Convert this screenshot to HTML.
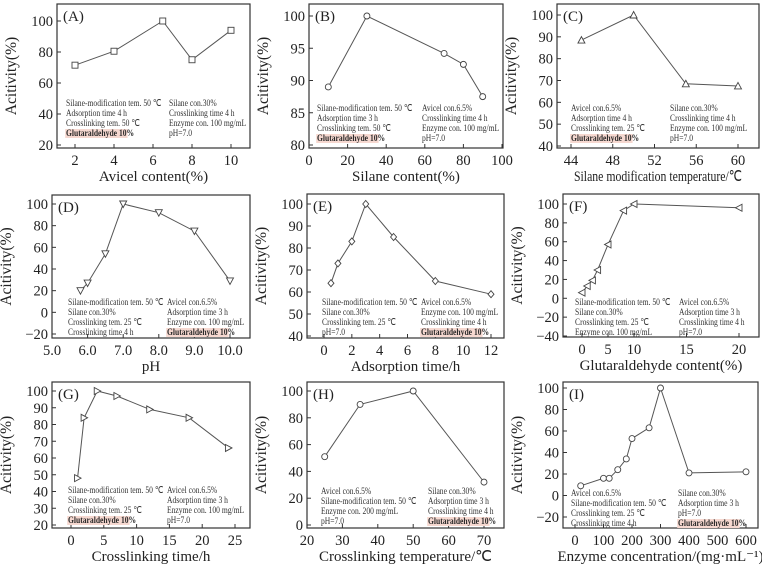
<!DOCTYPE html>
<html><head><meta charset="utf-8">
<style>
html,body{margin:0;padding:0;background:#fff;}
svg{display:block;font-family:"Liberation Serif",serif;}
</style></head>
<body>
<svg id="chart" width="762" height="565" viewBox="0 0 762 565" xmlns="http://www.w3.org/2000/svg"></svg>
<script>
// ---- data ----
const aX=[2,4,6.5,8,10];           const aY=[71.5,80.5,100,75,94];
const bX=[10,30,70,80,90];         const bY=[89,100,94.2,92.5,87.5];
const cX=[45,50,55,60];            const cY=[88.5,100,68.5,67.5];
const dX=[5.8,6,6.5,7,8,9,10];     const dY=[20,27,54,100,92,75,29];
const eX=[0.5,1,2,3,5,8,12];       const eY=[64,73,83,100,85,65,59];
const fX=[0,1,2,3,5,8,10,20];      const fY=[6,13,19,30,57,93,100,96];
const gX=[1,2,4,7,12,18,24];       const gY=[48,84,100,97,89,84,66];
const hX=[25,35,50,70];            const hY=[51,90,100,32];
const iX=[20,100,120,150,180,200,260,300,400,600]; const iY=[9,16,16,24,34,53,63,100,21,22];
const aXTicks=[2,4,6,8,10];        const aYTicks=[20,40,60,80,100];
const bXTicks=[0,20,40,60,80,100]; const bYTicks=[80,85,90,95,100];
const cXTicks=[44,48,52,56,60];    const cYTicks=[40,50,60,70,80,90,100];
const dXTicks=[5,6,7,8,9,10];      const dYTicks=[-20,0,20,40,60,80,100];
const eXTicks=[0,2,4,6,8,10,12];   const eYTicks=[40,50,60,70,80,90,100];
const fXTicks=[0,5,10,15,20];      const fYTicks=[-40,-20,0,20,40,60,80,100];
const gXTicks=[0,5,10,15,20,25];   const gYTicks=[20,30,40,50,60,70,80,90,100];
const hXTicks=[20,30,40,50,60,70]; const hYTicks=[0,20,40,60,80,100];
const iXTicks=[0,100,200,300,400,500,600]; const iYTicks=[-20,0,20,40,60,80,100];

const NS='http://www.w3.org/2000/svg';
const svg=document.getElementById('chart');
function el(tag,attrs,parent){const e=document.createElementNS(NS,tag);for(const k in attrs)e.setAttribute(k,attrs[k]);(parent||svg).appendChild(e);return e;}
function lin(v0,p0,v1,p1){return v=>p0+(v-v0)*(p1-p0)/(v1-v0);}
function fmt(v,dec){const s=dec?v.toFixed(1):String(v);return s.replace('-','\u2212');}

const S1='Silane-modification tem. 50 \u2103', GL='Glutaraldehyde 10%';
const panels=[
 {id:'a',lab:'(A)',X:aX,Y:aY,xt:aXTicks,yt:aYTicks,box:[57,4,250,148],xs:lin(2,75,10,231),ys:lin(20,145,100,21),mk:'sq',title:'Avicel content(%)',
  L:[S1,'Adsorption time 4 h','Crosslinking tem. 50 \u2103',GL],R:['Silane con.30%','Crosslinking time 4 h','Enzyme con. 100 mg/mL','pH=7.0'],ann:[66,169,106]},
 {id:'b',lab:'(B)',X:bX,Y:bY,xt:bXTicks,yt:bYTicks,box:[309,4,503,148],xs:lin(0,309,100,502),ys:lin(80,145,100,16),mk:'ci',title:'Silane content(%)',
  L:[S1,'Adsorption time 3 h','Crosslinking tem. 50 \u2103',GL],R:['Avicel con.6.5%','Crosslinking time 4 h','Enzyme con. 100 mg/mL','pH=7.0'],ann:[317,422,111]},
 {id:'c',lab:'(C)',X:cX,Y:cY,xt:cXTicks,yt:cYTicks,box:[557,4,759,148],xs:lin(44,571,60,738),ys:lin(40,146,100,15),mk:'tu',title:'Silane modification temperature/\u2103',tl:168,
  L:['Avicel con.6.5%','Adsorption time 4 h','Crosslinking tem. 25 \u2103',GL],R:['Silane con.30%','Crosslinking time 4 h','Enzyme con. 100 mg/mL','pH=7.0'],ann:[571,670,111]},
 {id:'d',lab:'(D)',X:dX,Y:dY,xt:dXTicks,yt:dYTicks,dec:1,box:[52,195,250,338],xs:lin(5,52,10,230),ys:lin(-20,334,100,204),mk:'td',title:'pH',
  L:[S1,'Silane con.30%','Crosslinking tem. 25 \u2103','Crosslinking time 4 h'],R:['Avicel con.6.5%','Adsorption time 3 h','Enzyme con. 100 mg/mL',GL],ann:[68,167,305]},
 {id:'e',lab:'(E)',X:eX,Y:eY,xt:eXTicks,yt:eYTicks,box:[307,194,504,338],xs:lin(0,324,12,491),ys:lin(40,336,100,204),mk:'di',title:'Adsorption time/h',
  L:[S1,'Silane con.30%','Crosslinking tem. 25 \u2103','pH=7.0'],R:['Avicel con.6.5%','Enzyme con. 100 mg/mL','Crosslinking time 4 h',GL],ann:[322,421,305]},
 {id:'f',lab:'(F)',X:fX,Y:fY,xt:fXTicks,yt:fYTicks,box:[563,194,759,337],xs:v=>v<=10?582+v*5.2:634+(v-10)*10.5,ys:lin(-40,336,100,204),mk:'tl',title:'Glutaraldehyde content(%)',
  L:[S1,'Silane con.30%','Crosslinking tem. 25 \u2103','Enzyme con. 100 mg/mL'],R:['Avicel con.6.5%','Adsorption time 3 h','Crosslinking time 4 h','pH=7.0'],ann:[575,679,305]},
 {id:'g',lab:'(G)',X:gX,Y:gY,xt:gXTicks,yt:gYTicks,box:[52,382,250,528],xs:lin(0,71,25,235),ys:lin(20,525,100,391),mk:'tr',title:'Crosslinking time/h',
  L:[S1,'Silane con.30%','Crosslinking tem. 25 \u2103',GL],R:['Avicel con.6.5%','Adsorption time 3 h','Enzyme con. 100 mg/mL','pH=7.0'],ann:[68,167,493]},
 {id:'h',lab:'(H)',X:hX,Y:hY,xt:hXTicks,yt:hYTicks,box:[307,382,504,528],xs:lin(20,307,70,484),ys:lin(0,525,100,391),mk:'ci',title:'Crosslinking temperature/\u2103',
  L:['Avicel con.6.5%',S1,'Enzyme con. 200 mg/mL','pH=7.0'],R:['Silane con.30%','Adsorption time 3 h','Crosslinking time 4 h',GL],ann:[321,428,494]},
 {id:'i',lab:'(I)',X:iX,Y:iY,xt:iXTicks,yt:iYTicks,box:[563,382,758,528],xs:lin(0,575,600,746),ys:lin(-20,517,100,388),mk:'ci',title:'Enzyme concentration/(mg\u00b7mL\u207b\u00b9)',
  L:['Avicel con.6.5%',S1,'Crosslinking tem. 25 \u2103','Crosslinking time 4 h'],R:['Silane con.30%','Adsorption time 3 h','pH=7.0',GL],ann:[571,678,496]}
];

function marker(g,type,x,y){
  const st={fill:'#fff',stroke:'#444','stroke-width':0.9};
  let m;const r=3;
  if(type==='sq') m=el('rect',Object.assign({x:x-r,y:y-r,width:2*r,height:2*r},st),g);
  else if(type==='ci') m=el('circle',Object.assign({cx:x,cy:y,r:r},st),g);
  else {
    let pts;
    if(type==='tu') pts=[[x,y-r-0.5],[x+r+0.5,y+r],[x-r-0.5,y+r]];
    else if(type==='td') pts=[[x,y+r+0.5],[x+r+0.5,y-r],[x-r-0.5,y-r]];
    else if(type==='tl') pts=[[x-r-0.5,y],[x+r,y-r-0.5],[x+r,y+r+0.5]];
    else if(type==='tr') pts=[[x+r+0.5,y],[x-r,y-r-0.5],[x-r,y+r+0.5]];
    else pts=[[x,y-r-0.5],[x+r,y],[x,y+r+0.5],[x-r,y]];
    m=el('polygon',Object.assign({points:pts.map(p=>p.join(',')).join(' ')},st),g);
  }
  return m;
}

function annot(g,lines,x,y0){
  lines.forEach((t,k)=>{
    const y=y0+k*10;
    const grp=el('g',{transform:`translate(${x},${y}) scale(0.8,1)`},g);
    
    
    if(t===GL){
      el('rect',{x:-1,y:-7,width:78,height:9,fill:'#f6d8d0'},grp);
    }
    const tx=el('text',{x:0,y:0,'font-size':9.5,fill:t===GL?'#2a2a2a':'#333','font-weight':t===GL?'bold':'normal'},grp);
    tx.textContent=t;
  });
}

panels.forEach(p=>{
  const g=el('g',{});
  
  
  const [l,t,r,b]=p.box;
  const bx=el('rect',{x:l,y:t,width:r-l,height:b-t,fill:'none',stroke:'#333','stroke-width':1.2},g);
  
  
  p.xt.forEach(v=>{
    const x=p.xs(v);
    el('line',{x1:x,y1:b,x2:x,y2:b-4,stroke:'#333','stroke-width':1},g);
    const tl=el('text',{x:x,y:b+17,'font-size':14.5,'text-anchor':'middle',fill:'#222'},g);
    
    
    tl.textContent=fmt(v,p.dec);
  });
  p.yt.forEach(v=>{
    const y=p.ys(v);
    el('line',{x1:l,y1:y,x2:l+4,y2:y,stroke:'#333','stroke-width':1},g);
    const tl=el('text',{x:l-4,y:y+5,'font-size':14.5,'text-anchor':'end',fill:'#222'},g);
    
    
    tl.textContent=fmt(v);
  });
  const ta={x:(l+r)/2,y:b+33,'font-size':15,'text-anchor':'middle',fill:'#222'};
  if(p.tl){ta.textLength=p.tl;ta.lengthAdjust='spacingAndGlyphs';}
  const xt=el('text',ta,g);
  
  
  xt.textContent=p.title;
  const yx=l-41, yy=(t+b)/2;
  const yt=el('text',{x:yx,y:yy,'font-size':15.5,'text-anchor':'middle',fill:'#222',transform:`rotate(-90 ${yx} ${yy})`},g);
  
  
  yt.textContent='Acitivity(%)';
  const pl=el('text',{x:l+6,y:t+17,'font-size':15,fill:'#222'},g);
  
  
  pl.textContent=p.lab;
  annot(g,p.L,p.ann[0],p.ann[2]);
  annot(g,p.R,p.ann[1],p.ann[2]);
  const line=el('polyline',{points:p.X.map((x,k)=>p.xs(x)+','+p.ys(p.Y[k])).join(' '),fill:'none',stroke:'#555','stroke-width':1},g);
  
  
  p.X.forEach((x,k)=>{
    const m=marker(g,p.mk,p.xs(x),p.ys(p.Y[k]));
    
    
  });
});
</script>
</body></html>
